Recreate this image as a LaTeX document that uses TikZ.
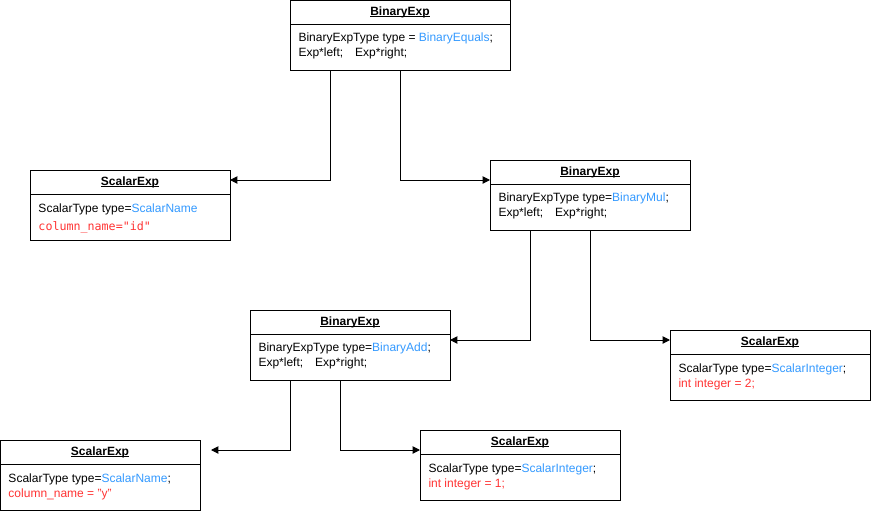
\documentclass[tikz,border=0pt]{standalone}
\usepackage{fontspec}
\setmainfont{Liberation Sans}
\newfontfamily\codefont{DejaVu Sans Mono}
\usetikzlibrary{positioning,calc,arrows.meta}
\definecolor{typeblue}{HTML}{3399FF}
\definecolor{valred}{HTML}{FF3333}
\newcommand\headul[1]{\setbox0\hbox{#1}\rlap{\rule[-1.4pt]{\wd0}{0.6pt}}\box0}

\begin{document}
\begin{tikzpicture}[x=0.75pt,y=-0.75pt,line width=0.75pt,
	head/.style={draw,outer sep=0pt,inner sep=0pt,minimum width=150pt,minimum height=18pt,font=\fontsize{9pt}{11pt}\selectfont\bfseries},
	body/.style={draw,outer sep=0pt,inner sep=0pt,minimum width=150pt,minimum height=34.5pt},
	txt/.style={anchor=base west,inner sep=0pt,font=\fontsize{9pt}{11pt}\selectfont},
	code/.style={anchor=base west,inner sep=0pt,text=valred,font=\codefont\fontsize{8.75pt}{11pt}\selectfont},
	link/.style={-{Triangle[length=5.5pt,width=5.5pt]}}]
				  \useasboundingbox (0,0) rectangle (872,511);
				  %BINARY EQUALS
				  \node[head,anchor=north west,minimum width=165pt] (B0h) at (290,0) {\headul{BinaryExp}};
				  \node[body,below=0pt of B0h,minimum width=165pt] (B0b) {};
				  \node[txt] (B0t1) at ($(B0b.north west)+(8,17.5)$) {BinaryExpType type = \textcolor{typeblue}{BinaryEquals};};
				  \node[txt] (B0t2) at ($(B0b.north west)+(8,32.5)$) {Exp*left;\quad Exp*right;};
				  
				  %SCALAR NAME id
				  \node[head,anchor=north west] (S1h) at (30,170) {\headul{ScalarExp}};
				  \node[body,below=0pt of S1h] (S1b) {};
				  \node[txt] (S1t1) at ($(S1b.north west)+(8,18)$) {ScalarType type=\textcolor{typeblue}{ScalarName}};
				  \node[code] (S1t2) at ($(S1b.north west)+(8,36)$) {column\_name="id"};
				  
				  %BINARY MUL
				  \node[head,anchor=north west] (B1h) at (490,160) {\headul{BinaryExp}};
				  \node[body,below=0pt of B1h] (B1b) {};
				  \node[txt] (B1t1) at ($(B1b.north west)+(8,17.5)$) {BinaryExpType type=\textcolor{typeblue}{BinaryMul};};
				  \node[txt] (B1t2) at ($(B1b.north west)+(8,32.5)$) {Exp*left;\quad Exp*right;};
				  
				  %BINARY ADD
				  \node[head,anchor=north west] (B2h) at (250,310) {\headul{BinaryExp}};
				  \node[body,below=0pt of B2h] (B2b) {};
				  \node[txt] (B2t1) at ($(B2b.north west)+(8,17.5)$) {BinaryExpType type=\textcolor{typeblue}{BinaryAdd};};
				  \node[txt] (B2t2) at ($(B2b.north west)+(8,32.5)$) {Exp*left;\quad Exp*right;};
				  
				  %SCALAR INTEGER 2
				  \node[head,anchor=north west] (S2h) at (670,330) {\headul{ScalarExp}};
				  \node[body,below=0pt of S2h] (S2b) {};
				  \node[txt] (S2t1) at ($(S2b.north west)+(8,18)$) {ScalarType type=\textcolor{typeblue}{ScalarInteger};};
				  \node[txt,text=valred] (S2t2) at ($(S2b.north west)+(8,33)$) {int integer = 2;};
				  
				  %SCALAR NAME y
				  \node[head,anchor=north west] (S3h) at (0,440) {\headul{ScalarExp}};
				  \node[body,below=0pt of S3h] (S3b) {};
				  \node[txt] (S3t1) at ($(S3b.north west)+(8,18)$) {ScalarType type=\textcolor{typeblue}{ScalarName};};
				  \node[txt,text=valred] (S3t2) at ($(S3b.north west)+(8,33)$) {column\_name = "y"};
				  
				  %SCALAR INTEGER 1
				  \node[head,anchor=north west] (S4h) at (420,430) {\headul{ScalarExp}};
				  \node[body,below=0pt of S4h] (S4b) {};
				  \node[txt] (S4t1) at ($(S4b.north west)+(8,18)$) {ScalarType type=\textcolor{typeblue}{ScalarInteger};};
				  \node[txt,text=valred] (S4t2) at ($(S4b.north west)+(8,33)$) {int integer = 1;};
				  
				  %LEFT, RIGHT
				  \coordinate (B0l) at ($(B0b.south west)+(40,0)$);
				  \coordinate (B0r) at ($(B0b.south west)+(110,0)$);
				  \coordinate (B1l) at ($(B1b.south west)+(40,0)$);
				  \coordinate (B1r) at ($(B1b.south west)+(100,0)$);
				  \coordinate (B2l) at ($(B2b.south west)+(40,0)$);
				  \coordinate (B2r) at ($(B2b.south west)+(90,0)$);
				  \draw[link] (B0l) |- ($(S1h.north east)+(0,10)$);
				  \draw[link] (B0r) |- ($(B1h.north west)+(0,20)$);
				  \draw[link] (B1l) |- ($(B2b.north east)+(0,6)$);
				  \draw[link] (B1r) |- ($(S2h.north west)+(0,10)$);
				  \draw[link] (B2l) |- ($(S3h.north east)+(11,10)$);
				  \draw[link] (B2r) |- ($(S4h.north west)+(0,20)$);
				  
\end{tikzpicture}
\end{document}
